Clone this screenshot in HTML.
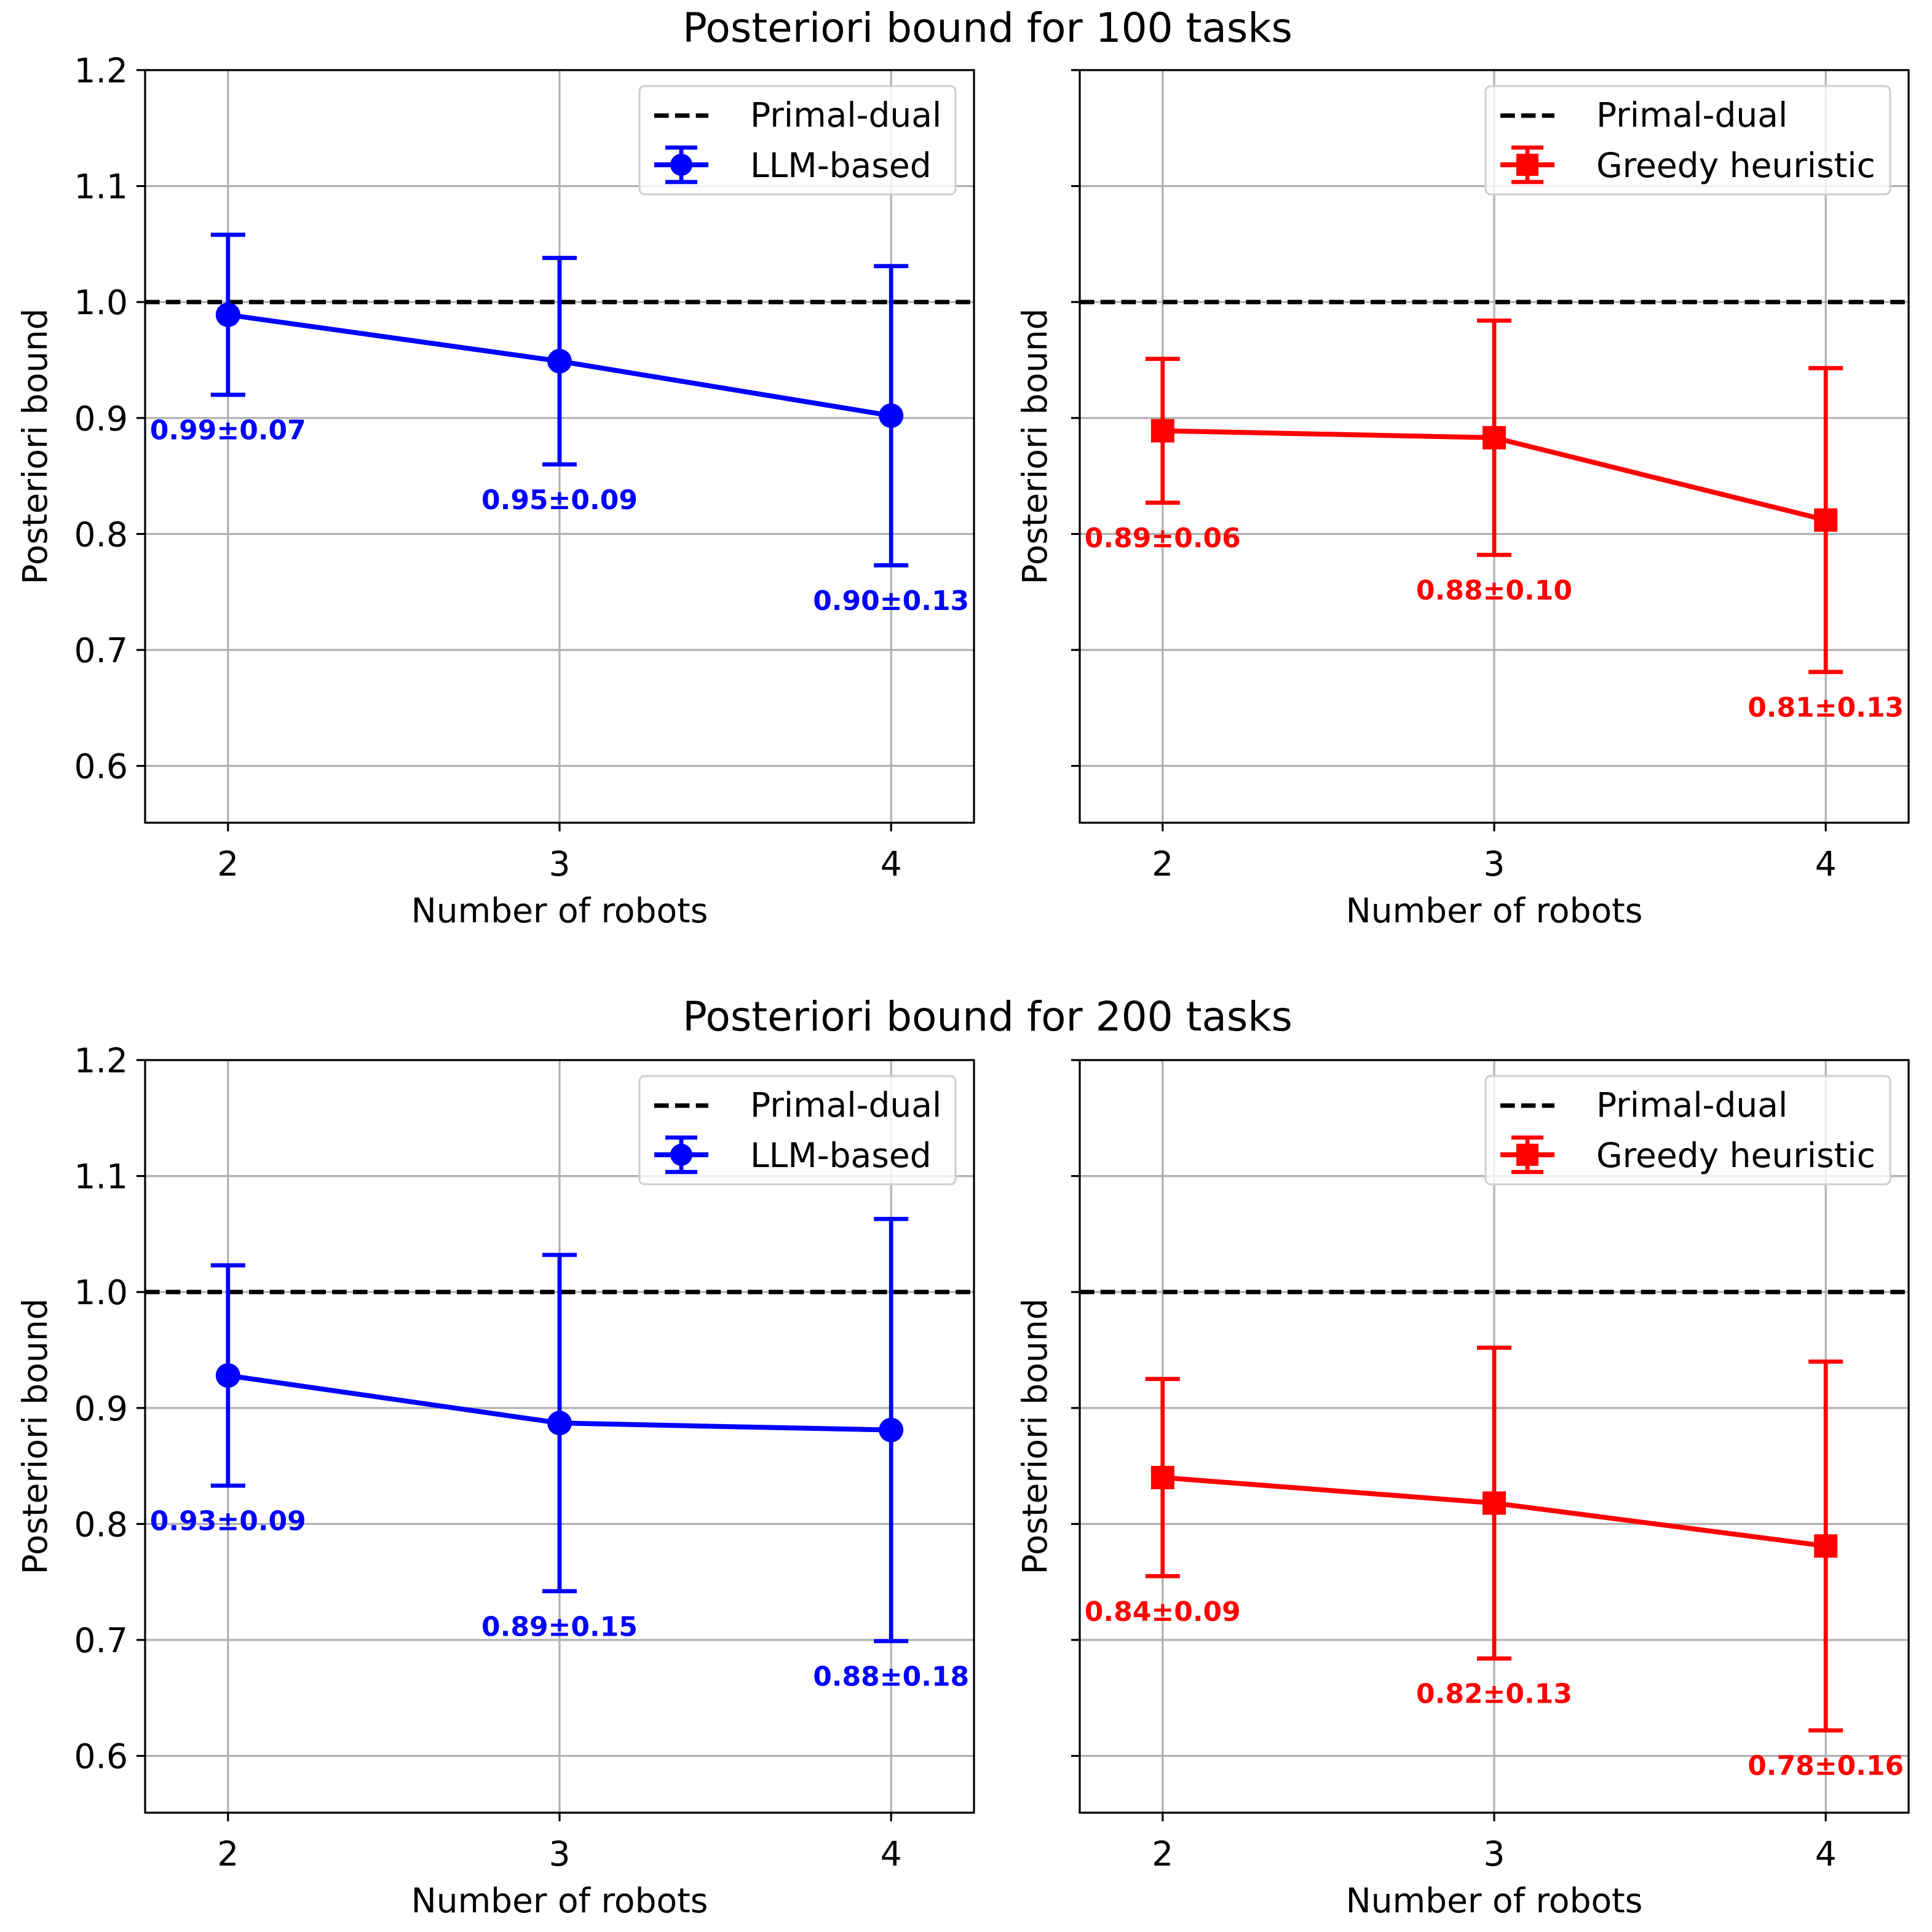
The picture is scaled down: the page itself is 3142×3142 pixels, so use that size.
<!DOCTYPE html>
<html><head><meta charset="utf-8"><style>
html,body{margin:0;padding:0;background:#fff}
svg{display:block}
text{font-family:"DejaVu Sans","Liberation Sans",sans-serif}
</style></head><body>
<svg id="fig" width="3142" height="3142" viewBox="0 0 1571 1571" xmlns="http://www.w3.org/2000/svg"></svg>
<script>
const xCats = [2, 3, 4];
const yTicks = [0.6, 0.7, 0.8, 0.9, 1.0, 1.1, 1.2];
const yTickLabels = ["0.6","0.7","0.8","0.9","1.0","1.1","1.2"];
const llm100 = [0.989, 0.949, 0.902];
const llm100Err = [0.069, 0.089, 0.129];
const llm100Labels = ["0.99±0.07","0.95±0.09","0.90±0.13"];
const greedy100 = [0.889, 0.883, 0.812];
const greedy100Err = [0.062, 0.101, 0.131];
const greedy100Labels = ["0.89±0.06","0.88±0.10","0.81±0.13"];
const llm200 = [0.928, 0.887, 0.881];
const llm200Err = [0.095, 0.145, 0.182];
const llm200Labels = ["0.93±0.09","0.89±0.15","0.88±0.18"];
const greedy200 = [0.840, 0.818, 0.781];
const greedy200Err = [0.085, 0.134, 0.159];
const greedy200Labels = ["0.84±0.09","0.82±0.13","0.78±0.16"];
const primalDual = 1.0;

const NS = "http://www.w3.org/2000/svg";
const svg = document.getElementById('fig');
function el(tag, attrs, parent, txt){
  const e = document.createElementNS(NS, tag);
  for (const k in attrs) e.setAttribute(k, attrs[k]);
  if (txt !== undefined) e.textContent = txt;
  (parent || svg).appendChild(e);
  return e;
}
const XMIN=1.75, XMAX=4.25, YMIN=0.551, YMAX=1.2;
const FS = 27.5;

function panel(L, T, vals, errs, labels, color, marker, name, showY){
  const W=674, H=612;
  const sx = v => L + (v-XMIN)/(XMAX-XMIN)*W;
  const sy = v => T + (YMAX-v)/(YMAX-YMIN)*H;
  const g = el('g', {});
  
  
  xCats.forEach(c => {
    const l = el('line', {x1:sx(c), x2:sx(c), y1:T, y2:T+H, stroke:'#b0b0b0', 'stroke-width':1.6}, g);
    
    
  });
  yTicks.forEach((t,i) => {
    const l = el('line', {x1:L, x2:L+W, y1:sy(t), y2:sy(t), stroke:'#b0b0b0', 'stroke-width':1.6}, g);
    
    
    el('line', {x1:L-7, x2:L, y1:sy(t), y2:sy(t), stroke:'#000', 'stroke-width':1.6}, g);
    if (showY) {
      const tx = el('text', {x:L-14, y:sy(t)+10, 'font-size':FS, 'text-anchor':'end'}, g, yTickLabels[i]);
      
      
    }
  });
  xCats.forEach(c => {
    el('line', {x1:sx(c), x2:sx(c), y1:T+H, y2:T+H+7, stroke:'#000', 'stroke-width':1.6}, g);
    const tx = el('text', {x:sx(c), y:T+H+43, 'font-size':FS, 'text-anchor':'middle'}, g, String(c));
    
    
  });
  const pd = el('line', {x1:L, x2:L+W, y1:sy(primalDual), y2:sy(primalDual), stroke:'#000', 'stroke-width':3.6, 'stroke-dasharray':'11.8 5.1'}, g);
  
  
  vals.forEach((v,i) => {
    const x = sx(xCats[i]);
    const eb = el('g', {stroke:color, 'stroke-width':3.4}, g);
    
    
    el('line', {x1:x, x2:x, y1:sy(v+errs[i]), y2:sy(v-errs[i])}, eb);
    el('line', {x1:x-14, x2:x+14, y1:sy(v+errs[i]), y2:sy(v+errs[i])}, eb);
    el('line', {x1:x-14, x2:x+14, y1:sy(v-errs[i]), y2:sy(v-errs[i])}, eb);
  });
  const pts = vals.map((v,i)=>sx(xCats[i])+','+sy(v)).join(' ');
  const ln = el('polyline', {points:pts, fill:'none', stroke:color, 'stroke-width':4}, g);
  
  
  vals.forEach((v,i) => {
    const x = sx(xCats[i]), y = sy(v);
    let m;
    if (marker==='o') m = el('circle', {cx:x, cy:y, r:10, fill:color}, g);
    else m = el('rect', {x:x-9.5, y:y-9.5, width:19, height:19, fill:color}, g);
    
    
    const tx = el('text', {x:x, y:sy(v-errs[i]-0.03)+8, 'font-size':22, 'font-weight':'bold', fill:color, 'text-anchor':'middle'}, g, labels[i]);
    
    
  });
  const sp = el('rect', {x:L, y:T, width:W, height:H, fill:'none', stroke:'#000', 'stroke-width':1.6}, g);
  
  
  const xl = el('text', {x:L+W/2, y:T+H+81, 'font-size':FS, 'text-anchor':'middle'}, g, 'Number of robots');
  
  
  const ylx = showY ? L-80 : L-27;
  const yl = el('text', {x:0, y:0, 'font-size':FS, 'text-anchor':'middle', transform:`translate(${ylx} ${T+H/2}) rotate(-90)`}, g, 'Posteriori bound');
  
  
  const lw = marker==='o' ? 257 : 329;
  const lx = L+W-15-lw, ly = T+13;
  const lg = el('g', {}, g);
  
  
  el('rect', {x:lx, y:ly, width:lw, height:88, rx:4, fill:'rgba(255,255,255,0.8)', stroke:'#d0d0d0', 'stroke-width':1.6}, lg);
  el('line', {x1:lx+12, x2:lx+56, y1:ly+24, y2:ly+24, stroke:'#000', 'stroke-width':3.6, 'stroke-dasharray':'11.8 5.1'}, lg);
  el('text', {x:lx+90, y:ly+33, 'font-size':FS}, lg, 'Primal-dual');
  const my = ly+64, mx = lx+34;
  el('line', {x1:lx+12, x2:lx+56, y1:my, y2:my, stroke:color, 'stroke-width':4}, lg);
  el('line', {x1:mx, x2:mx, y1:my-14, y2:my+14, stroke:color, 'stroke-width':3.4}, lg);
  el('line', {x1:mx-13, x2:mx+13, y1:my-14, y2:my-14, stroke:color, 'stroke-width':3.4}, lg);
  el('line', {x1:mx-13, x2:mx+13, y1:my+14, y2:my+14, stroke:color, 'stroke-width':3.4}, lg);
  if (marker==='o') el('circle', {cx:mx, cy:my, r:9, fill:color}, lg);
  else el('rect', {x:mx-9, y:my-9, width:18, height:18, fill:color}, lg);
  el('text', {x:lx+90, y:my+10, 'font-size':FS}, lg, marker==='o' ? 'LLM-based' : 'Greedy heuristic');
}
const t1 = el('text', {x:803, y:34, 'font-size':33, 'text-anchor':'middle'}, svg, 'Posteriori bound for 100 tasks');


const t2 = el('text', {x:803, y:838, 'font-size':33, 'text-anchor':'middle'}, svg, 'Posteriori bound for 200 tasks');


panel(118, 57, llm100, llm100Err, llm100Labels, '#0000ff', 'o', 'llm-100', true);
panel(878, 57, greedy100, greedy100Err, greedy100Labels, '#ff0000', 's', 'greedy-100', false);
panel(118, 862, llm200, llm200Err, llm200Labels, '#0000ff', 'o', 'llm-200', true);
panel(878, 862, greedy200, greedy200Err, greedy200Labels, '#ff0000', 's', 'greedy-200', false);
</script>
</body></html>
